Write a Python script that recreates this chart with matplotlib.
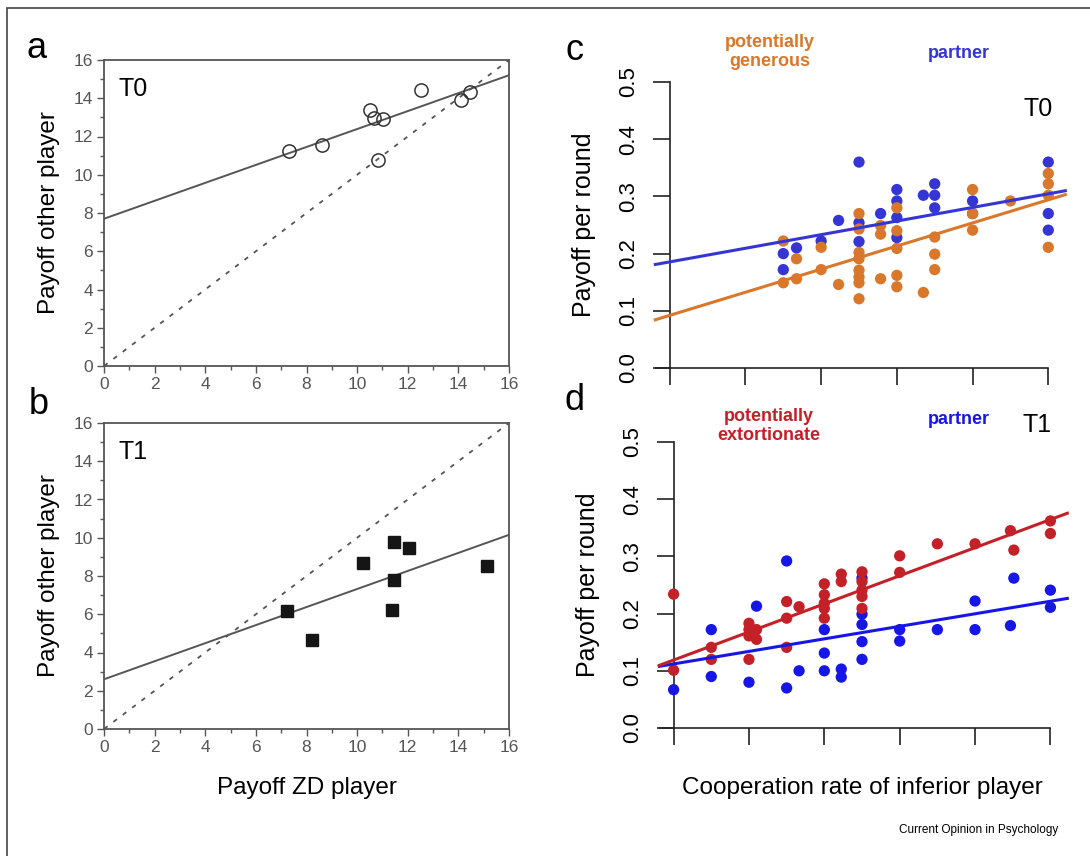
import numpy as np
import matplotlib
matplotlib.use('Agg')
import matplotlib.pyplot as plt
from matplotlib.patches import Rectangle

plt.rcParams['font.family'] = ['Liberation Sans', 'DejaVu Sans']

# panel a (T0) and b (T1): payoff ZD player vs payoff other player
zd_t0 = [7.31, 8.6, 10.5, 10.65, 11.04, 10.84, 12.52, 14.11, 14.44]
other_t0 = [11.22, 11.54, 13.37, 12.99, 12.94, 10.79, 14.42, 13.93, 14.34]
fit_t0 = [7.7, 0.469]  # intercept, slope

zd_t1 = [7.24, 8.23, 10.22, 11.46, 12.03, 11.46, 11.37, 15.12]
other_t1 = [6.15, 4.67, 8.69, 9.79, 9.48, 7.81, 6.24, 8.51]
fit_t1 = [2.6, 0.472]

# panel c (T0): cooperation rate vs payoff per round
c_partner_x = [0.5, 0.3, 0.3, 0.335, 0.4, 0.446, 0.5, 0.5, 0.557, 0.6, 0.6, 0.6, 0.6,
               0.67, 0.7, 0.7, 0.7, 0.8, 0.8, 1.0, 1.0, 1.0]
c_partner_y = [0.36, 0.2, 0.172, 0.21, 0.222, 0.258, 0.254, 0.221, 0.27, 0.312, 0.292, 0.263, 0.228,
               0.302, 0.322, 0.302, 0.28, 0.292, 0.27, 0.36, 0.27, 0.241]
c_gen_x = [0.3, 0.3, 0.335, 0.335, 0.4, 0.4, 0.446, 0.5, 0.5, 0.5, 0.5, 0.5, 0.5, 0.5, 0.5,
           0.557, 0.557, 0.557, 0.6, 0.6, 0.6, 0.6, 0.6, 0.67, 0.7, 0.7, 0.7, 0.8, 0.8, 0.8,
           0.9, 1.0, 1.0, 1.0, 1.0]
c_gen_y = [0.222, 0.149, 0.191, 0.156, 0.211, 0.172, 0.146, 0.27, 0.243, 0.202, 0.191, 0.171,
           0.159, 0.149, 0.121, 0.249, 0.234, 0.156, 0.28, 0.24, 0.209, 0.162, 0.142, 0.132,
           0.229, 0.199, 0.172, 0.312, 0.27, 0.241, 0.292, 0.34, 0.322, 0.302, 0.211]
c_fit_partner = [0.1855, 0.119]
c_fit_gen = [0.092, 0.202]

# panel d (T1)
d_ext_x = [0.0, 0.0, 0.1, 0.1, 0.2, 0.2, 0.2, 0.2, 0.22, 0.22, 0.3, 0.3, 0.3, 0.333,
           0.4, 0.4, 0.4, 0.4, 0.4, 0.445, 0.445, 0.5, 0.5, 0.5, 0.5, 0.5,
           0.6, 0.6, 0.7, 0.8, 0.894, 0.903, 1.0, 1.0]
d_ext_y = [0.234, 0.101, 0.141, 0.12, 0.183, 0.172, 0.161, 0.12, 0.172, 0.155, 0.221, 0.192,
           0.141, 0.212, 0.252, 0.233, 0.218, 0.209, 0.192, 0.269, 0.256, 0.273, 0.256, 0.241,
           0.23, 0.209, 0.301, 0.272, 0.322, 0.322, 0.345, 0.311, 0.362, 0.34]
d_partner_x = [0.0, 0.1, 0.1, 0.2, 0.22, 0.3, 0.3, 0.333, 0.4, 0.4, 0.4, 0.445, 0.445,
               0.5, 0.5, 0.5, 0.5, 0.5, 0.6, 0.6, 0.7, 0.8, 0.8, 0.894, 0.903, 1.0, 1.0]
d_partner_y = [0.067, 0.172, 0.09, 0.08, 0.213, 0.292, 0.07, 0.1, 0.172, 0.131, 0.1, 0.103,
               0.089, 0.262, 0.199, 0.181, 0.151, 0.12, 0.172, 0.152, 0.172, 0.222, 0.172,
               0.179, 0.262, 0.241, 0.211]
d_fit_ext = [0.1188, 0.2456]
d_fit_partner = [0.112, 0.1096]

coop_ticks = [0, 0.2, 0.4, 0.6, 0.8, 1.0]
payoff_ticks = [0.0, 0.1, 0.2, 0.3, 0.4, 0.5]

orange = '#D9782A'
blue_c = '#3535D6'
red = '#C42027'
blue_d = '#1616E8'
gray = '#555555'

W, H = 1090, 856
fig = plt.figure(figsize=(10.9, 8.56), dpi=100)


def px_axes(x0, y0, x1, y1):
    return fig.add_axes([x0 / W, 1 - y1 / H, (x1 - x0) / W, (y1 - y0) / H])


def ftext(x, y, s, **kw):
    fig.text(x / W, 1 - y / H, s, **kw)


def payoff_panel(ax, x, y, fit, marker, filled, label):
    ax.set_xlim(0, 16)
    ax.set_ylim(0, 16)
    xx = np.array([0, 16])
    ax.plot(xx, xx, color=gray, lw=1.3, ls=(0, (2.5, 4)))
    ax.plot(xx, fit[0] + fit[1] * xx, color=gray, lw=1.4)
    if filled:
        ax.plot(x, y, ls='none', marker=marker, ms=8.5, mfc='#151515', mec='#151515')
    else:
        ax.plot(x, y, ls='none', marker=marker, ms=9.5, mfc='none', mec='#333333', mew=1.1)
    ax.set_xticks(range(0, 17, 2))
    ax.set_yticks(range(0, 17, 2))
    ax.set_xticks(range(1, 16, 2), minor=True)
    ax.set_yticks(range(1, 16, 2), minor=True)
    ax.tick_params(which='both', direction='out', colors=gray, labelsize=12.5, width=1)
    ax.tick_params(which='major', length=5, pad=3)
    ax.tick_params(which='minor', length=3)
    for sp in ax.spines.values():
        sp.set_color(gray)
        sp.set_linewidth(1.3)
    ax.text(0.035, 0.905, label, transform=ax.transAxes, fontsize=18, va='center', ha='left')


def coop_panel(ax, series, fits):
    ax.set_xlim(-0.06, 1.06)
    ax.set_ylim(0, 0.5)
    for (x, y, c) in series:
        ax.scatter(x, y, s=66, color=c, edgecolors='none', zorder=3, clip_on=False)
    xx = np.array([-0.038, 1.045])
    for (f, c) in fits:
        ax.plot(xx, f[0] + f[1] * xx, color=c, lw=2.2, zorder=4, clip_on=False)
    for s in ['top', 'right']:
        ax.spines[s].set_visible(False)
    ax.spines['left'].set_position(('data', 0))
    ax.spines['left'].set_bounds(0, 0.5)
    ax.spines['bottom'].set_bounds(-0.035, 1.0)
    for s in ['left', 'bottom']:
        ax.spines[s].set_linewidth(1.2)
        ax.spines[s].set_color('#222222')
    ax.set_xticks(coop_ticks)
    ax.set_xticklabels([])
    ax.set_yticks(payoff_ticks)
    ax.set_yticklabels(['%.1f' % v for v in payoff_ticks])
    ax.tick_params(axis='both', direction='out', length=12, width=1.2, color='#222222')
    ax.tick_params(axis='y', labelsize=16, labelrotation=90, pad=10)
    for t in ax.get_yticklabels():
        t.set_va('center')
    ax.patch.set_alpha(0)


ax_a = px_axes(104, 60, 509, 366)
payoff_panel(ax_a, zd_t0, other_t0, fit_t0, 'o', False, 'T0')
ax_a.set_ylabel('Payoff other player', fontsize=17.5, labelpad=10)

ax_b = px_axes(104, 423, 509, 729)
payoff_panel(ax_b, zd_t1, other_t1, fit_t1, 's', True, 'T1')
ax_b.set_ylabel('Payoff other player', fontsize=17.5, labelpad=10)
ax_b.set_xlabel('Payoff ZD player', fontsize=17.5, labelpad=16)

ax_c = px_axes(647, 82, 1071, 368)
coop_panel(ax_c, [(c_partner_x, c_partner_y, blue_c), (c_gen_x, c_gen_y, orange)],
           [(c_fit_partner, blue_c), (c_fit_gen, orange)])
ax_c.set_ylabel('Payoff per round', fontsize=18, labelpad=16)

ax_d = px_axes(651, 442, 1073, 728)
coop_panel(ax_d, [(d_partner_x, d_partner_y, blue_d), (d_ext_x, d_ext_y, red)],
           [(d_fit_partner, blue_d), (d_fit_ext, red)])
ax_d.set_ylabel('Payoff per round', fontsize=18, labelpad=16)
ax_d.set_xlabel('Cooperation rate of inferior player', fontsize=17.5, labelpad=20)

# T labels and group labels for panels c and d
ftext(1053, 109, 'T0', fontsize=18, ha='right', va='center')
ftext(1052, 425, 'T1', fontsize=18, ha='right', va='center')
ftext(770, 52, 'potentially\ngenerous', color=orange, fontsize=13, fontweight='bold',
      ha='center', va='center', linespacing=1.2)
ftext(959, 54, 'partner', color=blue_c, fontsize=13, fontweight='bold', ha='center', va='center')
ftext(769, 426, 'potentially\nextortionate', color=red, fontsize=13, fontweight='bold',
      ha='center', va='center', linespacing=1.2)
ftext(959, 420, 'partner', color=blue_d, fontsize=13, fontweight='bold', ha='center', va='center')

# panel letters
for (x, y, s) in [(37, 48, 'a'), (39, 404, 'b'), (575, 50, 'c'), (574, 400, 'd')]:
    ftext(x, y, s, fontsize=26, ha='center', va='center')

ftext(1058, 830, 'Current Opinion in Psychology', fontsize=8.5, ha='right', va='center')

# outer frame
fig.add_artist(Rectangle((7 / W, -0.1), 1.2, 1.1 - 8 / H, transform=fig.transFigure,
                         fill=False, edgecolor='#444444', lw=1.2))

fig.savefig('out.png', dpi=100)
